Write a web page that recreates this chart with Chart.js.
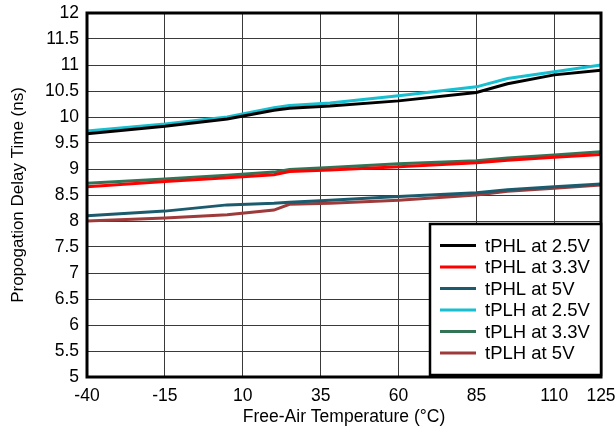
<!DOCTYPE html>
<html>
<head>
<meta charset="utf-8">
<script src="https://cdn.jsdelivr.net/npm/chart.js@4"></script>
<style>
  html, body { margin: 0; padding: 0; background: #fff; }
  #wrap { width: 616px; height: 434px; }
</style>
</head>
<body>
<div id="wrap"><canvas id="chart"></canvas></div>
<script>
// Free-air temperature (°C) sample points
const temps = [-40, -15, 5, 20, 25, 38, 60, 85, 95, 110, 125];

// Propagation delay (ns)
const tphl25 = [9.68, 9.82, 9.96, 10.13, 10.17, 10.21, 10.31, 10.47, 10.64, 10.81, 10.90];
const tphl33 = [8.66, 8.76, 8.83, 8.89, 8.95, 8.98, 9.045, 9.12, 9.17, 9.225, 9.28];
const tphl5  = [8.10, 8.19, 8.31, 8.34, 8.36, 8.40, 8.47, 8.545, 8.60, 8.66, 8.71];
const tplh25 = [9.73, 9.865, 10.00, 10.18, 10.22, 10.27, 10.41, 10.58, 10.74, 10.87, 11.00];
const tplh33 = [8.725, 8.81, 8.88, 8.94, 8.99, 9.03, 9.10, 9.16, 9.21, 9.27, 9.33];
const tplh5  = [8.00, 8.06, 8.12, 8.21, 8.32, 8.34, 8.40, 8.50, 8.57, 8.63, 8.69];

const xTicks = [-40, -15, 10, 35, 60, 85, 110, 125];
const yTicks = [5, 5.5, 6, 6.5, 7, 7.5, 8, 8.5, 9, 9.5, 10, 10.5, 11, 11.5, 12];

const seriesNames = ['tPHL at 2.5V', 'tPHL at 3.3V', 'tPHL at 5V', 'tPLH at 2.5V', 'tPLH at 3.3V', 'tPLH at 5V'];
const seriesValues = [tphl25, tphl33, tphl5, tplh25, tplh33, tplh5];
const seriesColors = ['#000000', '#ff0000', '#1b5b6d', '#17bfd0', '#327455', '#9e3a3a'];

const FONT = 'Liberation Sans, Arial, sans-serif';

/**
 * Make {x, y} points for one series
 */
function toPoints(values) {
  return temps.map((t, i) => ({x: t, y: values[i]}));
}

// thick frame round the plot area
const frame = {
  id: 'frame',
  afterDatasetsDraw(chart) {
    const {ctx, chartArea: a} = chart;
    ctx.save();
    ctx.strokeStyle = '#000';
    ctx.lineWidth = 3;
    ctx.strokeRect(a.left, a.top, a.right - a.left, a.bottom - a.top);
    ctx.restore();
  }
};

// legend box in the lower right corner of the plot
const boxLegend = {
  id: 'boxLegend',
  afterDraw(chart) {
    const {ctx, chartArea: a} = chart;
    const w = 171, h = 151;
    const left = a.right - w, top = a.bottom - 2 - h;
    ctx.save();
    ctx.fillStyle = '#fff';
    ctx.fillRect(left, top, w, h);
    ctx.strokeStyle = '#000';
    ctx.lineWidth = 2.5;
    ctx.strokeRect(left, top, w, h);
    ctx.font = '18.5px ' + FONT;
    ctx.textBaseline = 'middle';
    chart.data.datasets.forEach((ds, i) => {
      const y = top + 21.5 + i * 21.5;
      ctx.strokeStyle = ds.borderColor;
      ctx.lineWidth = 3;
      ctx.beginPath();
      ctx.moveTo(left + 10, y);
      ctx.lineTo(left + 46, y);
      ctx.stroke();
      ctx.fillStyle = '#000';
      ctx.fillText(ds.label, left + 55, y + 1);
    });
    ctx.restore();
  }
};

new Chart(document.getElementById('chart'), {
  type: 'line',
  data: {
    datasets: seriesNames.map((name, i) => ({
      label: name,
      data: toPoints(seriesValues[i]),
      borderColor: seriesColors[i],
      backgroundColor: seriesColors[i],
      borderWidth: 3,
      pointRadius: 0,
      tension: 0
    }))
  },
  options: {
    responsive: true,
    maintainAspectRatio: false,
    animation: false,
    layout: {padding: {top: 13, right: 15, left: 0, bottom: 0}},
    plugins: {legend: {display: false}, tooltip: {enabled: false}},
    scales: {
      x: {
        type: 'linear',
        min: -40,
        max: 125,
        afterBuildTicks: scale => { scale.ticks = xTicks.map(v => ({value: v})); },
        afterFit: scale => {
          scale.height = 57;
          scale.paddingLeft = 0;
          scale.paddingRight = 0;
        },
        grid: {color: '#3a3a3a', lineWidth: 1, drawTicks: false},
        border: {display: false},
        ticks: {color: '#000', font: {family: FONT, size: 17.5}, padding: 9, maxRotation: 0, autoSkip: false},
        title: {display: true, text: 'Free-Air Temperature (°C)', color: '#000',
                font: {family: FONT, size: 17.5}, padding: {top: 0, bottom: 6}}
      },
      y: {
        min: 5,
        max: 12,
        afterBuildTicks: scale => { scale.ticks = yTicks.map(v => ({value: v})); },
        afterFit: scale => {
          scale.width = 87;
          scale.paddingTop = 0;
          scale.paddingBottom = 0;
        },
        grid: {color: '#3a3a3a', lineWidth: 1, drawTicks: false},
        border: {display: false},
        ticks: {color: '#000', font: {family: FONT, size: 17.5}, padding: 8,
                callback: v => String(v)},
        title: {display: true, text: 'Propogation Delay Time (ns)', color: '#000',
                font: {family: FONT, size: 17}, padding: {top: 8, bottom: 0}}
      }
    }
  },
  plugins: [frame, boxLegend]
});
</script>
</body>
</html>
